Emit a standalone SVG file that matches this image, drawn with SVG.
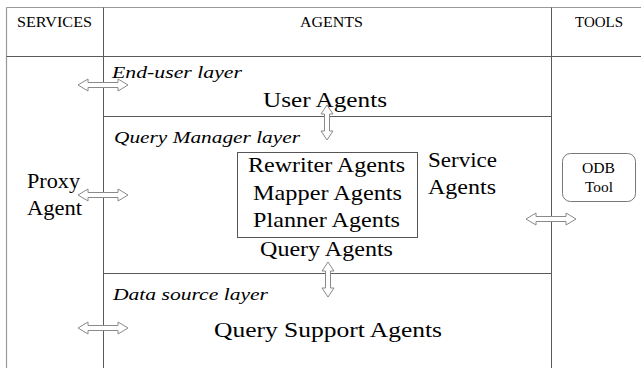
<svg xmlns="http://www.w3.org/2000/svg" xmlns:xlink="http://www.w3.org/1999/xlink" width="641" height="368" viewBox="0 0 641 368" font-family="'Liberation Serif', 'Times New Roman', 'DejaVu Serif', serif">
<style>
  text { font-family: "Liberation Serif", "Times New Roman", Times, "DejaVu Serif", serif; fill: #000; }
  .hdr { font-size: 15px; }
  .big { font-size: 21px; }
  .lay { font-size: 17px; font-style: italic; }
  .small { font-size: 15px; }
  .grid { stroke: #5a5a5a; stroke-width: 1; fill: none; }
  .border { stroke: #999; stroke-width: 1.2; fill: none; }
  .arrow { fill: #fff; stroke: #8a8a8a; stroke-width: 1; }
  .box { fill: none; stroke: #555; stroke-width: 1; }
</style>
<defs>
  <path id="harrow" d="M-25,0 L-15,-6 L-15,-2.5 L15,-2.5 L15,-6 L25,0 L15,6 L15,2.5 L-15,2.5 L-15,6 Z"/>
  <path id="varrow" d="M0,-17.5 L-6,-8.5 L-2.5,-8.5 L-2.5,8.5 L-6,8.5 L0,17.5 L6,8.5 L2.5,8.5 L2.5,-8.5 L6,-8.5 Z"/>
</defs>
<rect width="641" height="368" fill="#fff"/>

<g id="table">
  <line class="border" x1="6.5" y1="7.5" x2="641" y2="7.5"/>
  <line class="border" x1="6.5" y1="7.5" x2="6.5" y2="368"/>
  <line class="grid" x1="6.5" y1="56.5" x2="641" y2="56.5"/>
  <line class="grid" x1="103.5" y1="7.5" x2="103.5" y2="368"/>
  <line class="grid" x1="551.5" y1="7.5" x2="551.5" y2="368"/>
  <line class="grid" x1="103.5" y1="116.5" x2="551.5" y2="116.5"/>
  <line class="grid" x1="103.5" y1="273.5" x2="551.5" y2="273.5"/>
  <text class="hdr" x="17" y="27" textLength="75" lengthAdjust="spacingAndGlyphs">SERVICES</text>
  <text class="hdr" x="300" y="27" textLength="63" lengthAdjust="spacingAndGlyphs">AGENTS</text>
  <text class="hdr" x="575" y="27" textLength="48" lengthAdjust="spacingAndGlyphs">TOOLS</text>
</g>

<g id="layer-labels">
  <text class="lay" x="112" y="78" textLength="130" lengthAdjust="spacingAndGlyphs">End-user layer</text>
  <text class="lay" x="114" y="143" textLength="186" lengthAdjust="spacingAndGlyphs">Query Manager layer</text>
  <text class="lay" x="113" y="300" textLength="155" lengthAdjust="spacingAndGlyphs">Data source layer</text>
</g>

<g id="proxy-agent">
  <text class="big" x="27" y="188" textLength="53" lengthAdjust="spacingAndGlyphs">Proxy</text>
  <text class="big" x="27" y="215" textLength="55" lengthAdjust="spacingAndGlyphs">Agent</text>
</g>

<g id="user-agents">
  <text class="big" x="263" y="107" textLength="124" lengthAdjust="spacingAndGlyphs">User Agents</text>
</g>

<g id="query-agents">
  <rect class="box" x="237.5" y="152.5" width="180" height="85"/>
  <text class="big" x="248" y="172" textLength="157" lengthAdjust="spacingAndGlyphs">Rewriter Agents</text>
  <text class="big" x="253" y="200" textLength="149" lengthAdjust="spacingAndGlyphs">Mapper Agents</text>
  <text class="big" x="253" y="227" textLength="147" lengthAdjust="spacingAndGlyphs">Planner Agents</text>
  <text class="big" x="260" y="256" textLength="133" lengthAdjust="spacingAndGlyphs">Query Agents</text>
</g>

<g id="service-agents">
  <text class="big" x="428" y="167" textLength="69" lengthAdjust="spacingAndGlyphs">Service</text>
  <text class="big" x="428" y="194" textLength="68" lengthAdjust="spacingAndGlyphs">Agents</text>
</g>

<g id="query-support-agents">
  <text class="big" x="214" y="337" textLength="228" lengthAdjust="spacingAndGlyphs">Query Support Agents</text>
</g>

<g id="odb-tool">
  <rect class="box" x="562.5" y="153.5" width="73" height="48" rx="8" ry="8" style="stroke:#777"/>
  <text class="small" x="582" y="173" textLength="33" lengthAdjust="spacingAndGlyphs">ODB</text>
  <text class="small" x="585" y="192" textLength="28" lengthAdjust="spacingAndGlyphs">Tool</text>
</g>

<g id="connectors">
  <use xlink:href="#harrow" class="arrow" transform="translate(103,85)"/>
  <use xlink:href="#harrow" class="arrow" transform="translate(103,195)"/>
  <use xlink:href="#harrow" class="arrow" transform="translate(103,328)"/>
  <use xlink:href="#harrow" class="arrow" transform="translate(551,219)"/>
  <use xlink:href="#varrow" class="arrow" transform="translate(327,122.5)"/>
  <use xlink:href="#varrow" class="arrow" transform="translate(328,279.5)"/>
</g>
</svg>
